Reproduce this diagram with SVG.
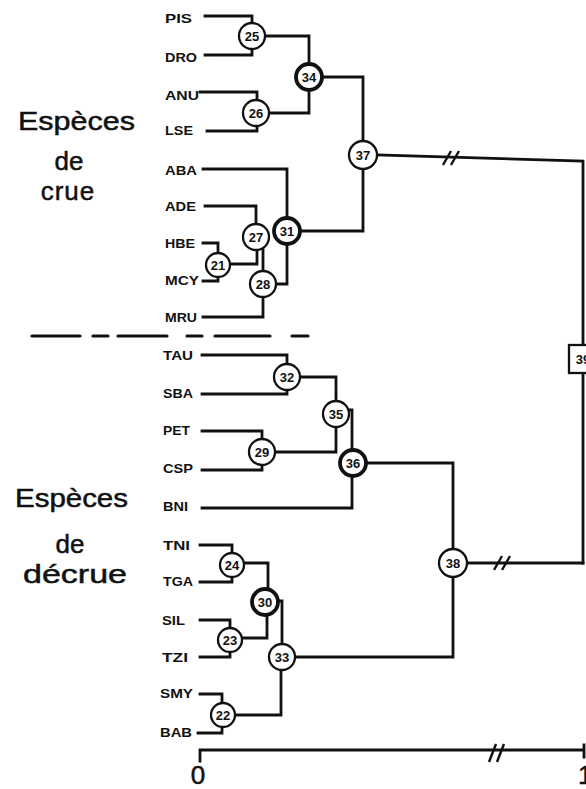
<svg xmlns="http://www.w3.org/2000/svg" width="586" height="789" viewBox="0 0 586 789">
<style>
.ln{fill:none;stroke:#111;stroke-width:2.8;stroke-linecap:square}
.br{fill:none;stroke:#111;stroke-width:2.4}
.nd circle{fill:#fff;stroke:#111;stroke-width:2.3}
.nd.bold circle{stroke-width:3.8}
.nd text{font-family:"Liberation Sans",Arial,sans-serif;font-size:13px;font-weight:bold;text-anchor:middle;fill:#111}
.lb{font-family:"Liberation Sans",Arial,sans-serif;font-size:12.5px;font-weight:bold;fill:#111}
.big{font-family:"Liberation Sans",Arial,sans-serif;font-size:26px;fill:#111;stroke:#111;stroke-width:0.5}
.dash{stroke:#111;stroke-width:3.2;stroke-linecap:round}
</style>
<rect width="586" height="789" fill="#fff"/>
<g id="group-labels">
<text class="big" x="18" y="130" textLength="117" lengthAdjust="spacingAndGlyphs">Espèces</text>
<text class="big" x="69" y="170" text-anchor="middle">de</text>
<text class="big" x="68" y="200" text-anchor="middle" letter-spacing="1">crue</text>
<text class="big" x="15" y="507" textLength="113" lengthAdjust="spacingAndGlyphs">Espèces</text>
<text class="big" x="70" y="553" text-anchor="middle">de</text>
<text class="big" x="23" y="583" textLength="104" lengthAdjust="spacingAndGlyphs">décrue</text>
</g>
<g id="species">
<text class="lb" x="165" y="23" textLength="27" lengthAdjust="spacingAndGlyphs">PIS</text>
<text class="lb" x="165" y="61.5" textLength="32" lengthAdjust="spacingAndGlyphs">DRO</text>
<text class="lb" x="165" y="99.5" textLength="34" lengthAdjust="spacingAndGlyphs">ANU</text>
<text class="lb" x="165" y="134.5" textLength="28" lengthAdjust="spacingAndGlyphs">LSE</text>
<text class="lb" x="165" y="174.5" textLength="32" lengthAdjust="spacingAndGlyphs">ABA</text>
<text class="lb" x="165" y="210.5" textLength="31" lengthAdjust="spacingAndGlyphs">ADE</text>
<text class="lb" x="165" y="247.5" textLength="30" lengthAdjust="spacingAndGlyphs">HBE</text>
<text class="lb" x="165" y="284.5" textLength="34" lengthAdjust="spacingAndGlyphs">MCY</text>
<text class="lb" x="165" y="321.5" textLength="32" lengthAdjust="spacingAndGlyphs">MRU</text>
<text class="lb" x="163" y="359.5" textLength="30" lengthAdjust="spacingAndGlyphs">TAU</text>
<text class="lb" x="163" y="397.5" textLength="30" lengthAdjust="spacingAndGlyphs">SBA</text>
<text class="lb" x="163" y="434.5" textLength="27" lengthAdjust="spacingAndGlyphs">PET</text>
<text class="lb" x="163" y="472.5" textLength="30" lengthAdjust="spacingAndGlyphs">CSP</text>
<text class="lb" x="163" y="510.5" textLength="25" lengthAdjust="spacingAndGlyphs">BNI</text>
<text class="lb" x="163" y="549.5" textLength="27" lengthAdjust="spacingAndGlyphs">TNI</text>
<text class="lb" x="163" y="585.5" textLength="30" lengthAdjust="spacingAndGlyphs">TGA</text>
<text class="lb" x="162" y="624.5" textLength="23" lengthAdjust="spacingAndGlyphs">SIL</text>
<text class="lb" x="162" y="661.5" textLength="26" lengthAdjust="spacingAndGlyphs">TZI</text>
<text class="lb" x="160" y="697.5" textLength="33" lengthAdjust="spacingAndGlyphs">SMY</text>
<text class="lb" x="160" y="736.5" textLength="32" lengthAdjust="spacingAndGlyphs">BAB</text>
</g>
<g id="connectors">
<path class="ln" d="M205,16 H252 V23 M205,55 H252 V49 M265,36 H309 V64"/>
<path class="ln" d="M200,92 H257 V100 M207,131 H257 V126 M269,113 H309 V90"/>
<path class="ln" d="M322,77 H363 V141"/>
<path class="ln" d="M377,155 L583,161 V345 M583,373 V563"/>
<path class="br" d="M443,165 L451,151 M451,165 L459,151"/>
<path class="ln" d="M363,169 V231 H300"/>
<path class="ln" d="M203,169 H287 V218 M205,206 H256 V224"/>
<path class="ln" d="M203,243 H218 V253 M203,281 H218 V277 M230,264 H257 V250"/>
<path class="ln" d="M263,249 V271 M203,317 H263 V297 M276,284 H287 V244"/>
<path class="ln" d="M202,355 H287 V364 M202,394 H287 V390 M300,377 H336 V401"/>
<path class="ln" d="M202,431 H262 V439 M202,470 H262 V465 M275,452 H336 V427"/>
<path class="ln" d="M348,410 H352 V450 M202,508 H352 V476"/>
<path class="ln" d="M366,463 H453 V549"/>
<path class="ln" d="M467,563 H583"/>
<path class="br" d="M494,570 L502,556 M502,570 L510,556"/>
<path class="ln" d="M453,577 V657 H295"/>
<path class="ln" d="M200,545 H232 V553 M200,582 H232 V577 M244,563 H268 V589"/>
<path class="ln" d="M200,620 H230 V628 M200,657 H230 V652 M242,638 H267 V615"/>
<path class="ln" d="M277,601 H282 V644"/>
<path class="ln" d="M200,694 H222 V703 M198,733 H222 V727 M235,715 H281 V670"/>
<path class="ln" d="M200,761 V750 H584 M584,745 V757"/>
<path class="br" d="M489,762 L496,744 M497,762 L504,744"/>
<g id="separator">
<line class="dash" x1="32" y1="336" x2="80" y2="336"/>
<line class="dash" x1="93" y1="336" x2="108" y2="336"/>
<line class="dash" x1="118" y1="336" x2="167" y2="336"/>
<line class="dash" x1="187" y1="336" x2="202" y2="336"/>
<line class="dash" x1="215" y1="336" x2="270" y2="336"/>
<line class="dash" x1="292" y1="336" x2="308" y2="336"/>
</g>
</g>
<g id="n21" class="nd"><circle cx="218" cy="265" r="12"/><text x="218" y="269.5">21</text></g>
<g id="n22" class="nd"><circle cx="223" cy="715" r="12"/><text x="223" y="719.5">22</text></g>
<g id="n23" class="nd"><circle cx="230" cy="640" r="12"/><text x="230" y="644.5">23</text></g>
<g id="n24" class="nd"><circle cx="232" cy="565" r="12"/><text x="232" y="569.5">24</text></g>
<g id="n25" class="nd"><circle cx="252" cy="36" r="13"/><text x="252" y="40.5">25</text></g>
<g id="n26" class="nd"><circle cx="256" cy="113" r="13"/><text x="256" y="117.5">26</text></g>
<g id="n27" class="nd"><circle cx="256" cy="237" r="13"/><text x="256" y="241.5">27</text></g>
<g id="n28" class="nd"><circle cx="263" cy="284" r="13"/><text x="263" y="288.5">28</text></g>
<g id="n29" class="nd"><circle cx="262" cy="452" r="13"/><text x="262" y="456.5">29</text></g>
<g id="n30" class="nd bold"><circle cx="265" cy="602" r="13"/><text x="265" y="606.5">30</text></g>
<g id="n31" class="nd bold"><circle cx="287" cy="231" r="13"/><text x="287" y="235.5">31</text></g>
<g id="n32" class="nd"><circle cx="287" cy="377" r="13"/><text x="287" y="381.5">32</text></g>
<g id="n33" class="nd"><circle cx="282" cy="657" r="13"/><text x="282" y="661.5">33</text></g>
<g id="n34" class="nd bold"><circle cx="309" cy="77" r="13"/><text x="309" y="81.5">34</text></g>
<g id="n35" class="nd"><circle cx="336" cy="414" r="13"/><text x="336" y="418.5">35</text></g>
<g id="n36" class="nd bold"><circle cx="353" cy="463" r="13"/><text x="353" y="467.5">36</text></g>
<g id="n37" class="nd"><circle cx="363" cy="155" r="14"/><text x="363" y="159.5">37</text></g>
<g id="n38" class="nd"><circle cx="453" cy="563" r="14"/><text x="453" y="567.5">38</text></g>
<g id="n39" class="nd"><rect x="569" y="345" width="28" height="28" fill="#fff" stroke="#111" stroke-width="2.3"/><text x="583" y="363.5">39</text></g>
<g id="axis-labels">
<text class="big" x="198" y="784" text-anchor="middle" font-size="24" stroke-width="0.3">0</text>
<text class="big" x="578" y="784" font-size="24" stroke-width="0.3">1</text>
</g>
</svg>
